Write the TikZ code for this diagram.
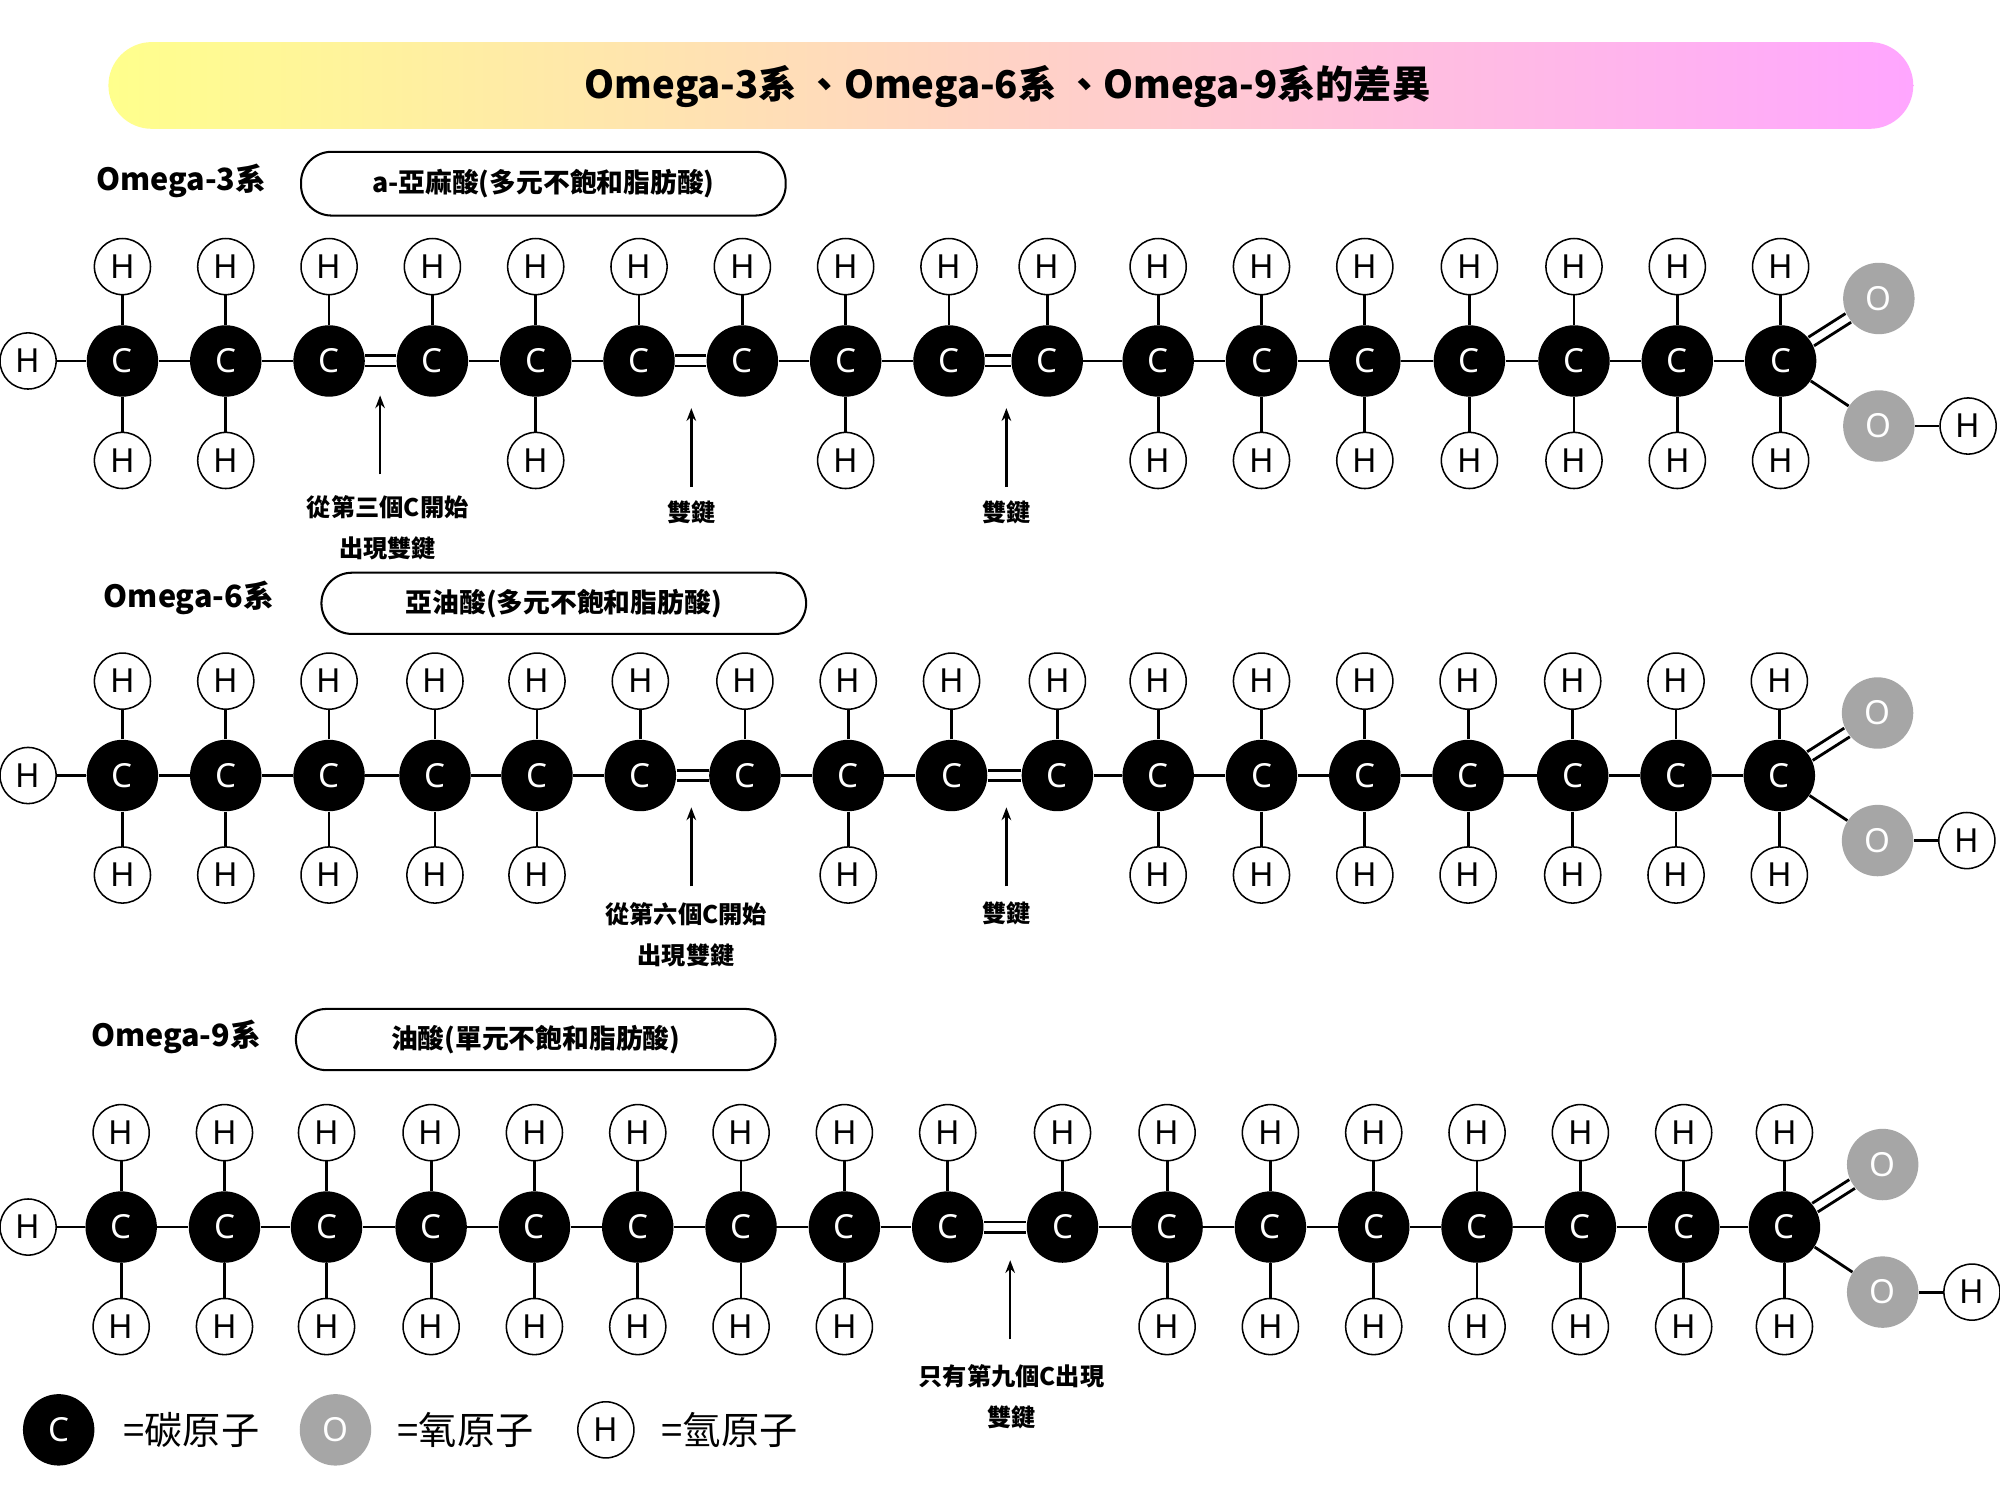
\documentclass[tikz,border=0pt]{standalone}
\usepackage{fontspec}
\usetikzlibrary{arrows.meta}
\setmainfont{Noto Sans CJK TC}
\newfontfamily\atomfont{Noto Sans}
\begin{document}
\begin{tikzpicture}[x=0.5pt,y=-0.5pt,
  cat/.style={circle,fill=black,minimum size=28pt,inner sep=0pt,text=white,font=\atomfont\fontsize{13}{13}\selectfont},
  oat/.style={circle,fill=gray!70,minimum size=28pt,inner sep=0pt,text=white,font=\atomfont\fontsize{13}{13}\selectfont},
  hat/.style={circle,draw=black,fill=white,line width=0.6pt,minimum size=22pt,inner sep=0pt,font=\atomfont\fontsize{13}{13}\selectfont},
  bond/.style={line width=1.1pt},
  lab/.style={font=\bfseries\fontsize{9.5}{12}\selectfont,align=center},
  olab/.style={font=\bfseries\fontsize{12}{12}\selectfont},
  namebox/.style={draw=black,line width=0.8pt,rounded corners=12pt,font=\bfseries\fontsize{10.5}{12}\selectfont},
  leg/.style={font=\fontsize{15}{15}\selectfont,anchor=center},
  arr/.style={-{Stealth[length=5pt]},line width=1pt}]
\useasboundingbox (0,0) rectangle (1568,1176);
\fill[white] (0,0) rectangle (1568,1176);
\shade[left color=yellow!45!white, right color=magenta!35!white, rounded corners=17pt] (85,33) rectangle (1500,101);
\node[font=\bfseries\fontsize{15}{15}\selectfont] (title) at (790,68) {Omega-3系 、Omega-6系 、Omega-9系的差異};

% row macro
\newcommand\dbl[2]{\draw[bond,transform canvas={yshift=2pt}] (#1)--(#2);\draw[bond,transform canvas={yshift=-2pt}] (#1)--(#2);}
\newcommand\molrow[6]{% #1 prefix #2 y #3 x list #4 bottom H list #5 singles #6 doubles
  \foreach \x [count=\i] in {#3} {
    \node[cat] (#1c\i) at (\x,#2) {C};
    \node[hat] (#1t\i) at (\x,{#2-74}) {H};
    \draw[bond] (#1c\i)--(#1t\i);
  }
  \foreach \i in {#4} {
    \path (#1c\i) ++(0,{78}) node[hat] (#1b\i) {H};
    \draw[bond] (#1c\i)--(#1b\i);
  }
  \foreach \i in {#5} {\pgfmathtruncatemacro\j{\i+1}\draw[bond] (#1c\i)--(#1c\j);}
  \foreach \i in {#6} {\pgfmathtruncatemacro\j{\i+1}\dbl{#1c\i}{#1c\j}}
  \node[hat] (#1h0) at (22,#2) {H};
  \draw[bond] (#1h0)--(#1c1);
  \path (#1c17) ++(77,-49) node[oat] (#1o1) {O};
  \path (#1c17) ++(77,51) node[oat] (#1o2) {O};
  \path (#1o2) ++(70,0) node[hat] (#1oh) {H};
  \draw[bond,transform canvas={xshift=1.1pt,yshift=-1.7pt}] (#1c17)--(#1o1);
  \draw[bond,transform canvas={xshift=-1.1pt,yshift=1.7pt}] (#1c17)--(#1o1);
  \draw[bond] (#1c17)--(#1o2);
  \draw[bond] (#1o2)--(#1oh);
}

% Omega-3
\node[olab] (l3) at (142,142) {Omega-3系};
\node[namebox,minimum width=190pt,minimum height=25pt] (n3) at (426,144) {a-亞麻酸(多元不飽和脂肪酸)};
\molrow{a}{283}{96,177,258,339,420,501,582,663,744,821,908,989,1070,1152,1234,1315,1396}{1,2,5,8,11,12,13,14,15,16,17}{1,2,4,5,7,8,10,11,12,13,14,15,16}{3,6,9}
\coordinate (a1) at (298,372); \draw[arr] (a1)--++(0,-62);
\coordinate (a2) at (542,382); \draw[arr] (a2)--++(0,-62);
\coordinate (a3) at (789,382); \draw[arr] (a3)--++(0,-62);
\node[lab] (t31) at (304,414) {從第三個C開始\\[4pt]出現雙鍵};
\node[lab] (t32) at (542,402) {雙鍵};
\node[lab] (t33) at (789,402) {雙鍵};

% Omega-6
\node[olab] (l6) at (148,469) {Omega-6系};
\node[namebox,minimum width=190pt,minimum height=24pt] (n6) at (442,473) {亞油酸(多元不飽和脂肪酸)};
\molrow{b}{608}{96,177,258,341,421,502,584,665,746,829,908,989,1070,1151,1233,1314,1395}{1,2,3,4,5,8,11,12,13,14,15,16,17}{1,2,3,4,5,7,8,10,11,12,13,14,15,16}{6,9}
\coordinate (b1) at (542,695); \draw[arr] (b1)--++(0,-62);
\coordinate (b2) at (789,695); \draw[arr] (b2)--++(0,-62);
\node[lab] (t61) at (538,733) {從第六個C開始\\[4pt]出現雙鍵};
\node[lab] (t62) at (789,716) {雙鍵};

% Omega-9
\node[olab] (l9) at (138,813) {Omega-9系};
\node[namebox,minimum width=188pt,minimum height=24pt] (n9) at (420,815) {油酸(單元不飽和脂肪酸)};
\molrow{c}{962}{95,176,256,338,419,500,581,662,743,833,915,996,1077,1158,1239,1320,1399}{1,2,3,4,5,6,7,8,11,12,13,14,15,16,17}{1,2,3,4,5,6,7,8,10,11,12,13,14,15,16}{9}
\coordinate (c1) at (792,1050); \draw[arr] (c1)--++(0,-62);
\node[lab] (t91) at (793,1095) {只有第九個C出現\\[4pt]雙鍵};

% legend
\node[cat] (kc) at (46,1121) {C};
\node[leg] (kct) at (150,1121) {=碳原子};
\node[oat] (ko) at (263,1121) {O};
\node[leg] (kot) at (365,1121) {=氧原子};
\node[hat] (kh) at (475,1121) {H};
\node[leg] (kht) at (572,1121) {=氫原子};
\end{tikzpicture}
\end{document}
